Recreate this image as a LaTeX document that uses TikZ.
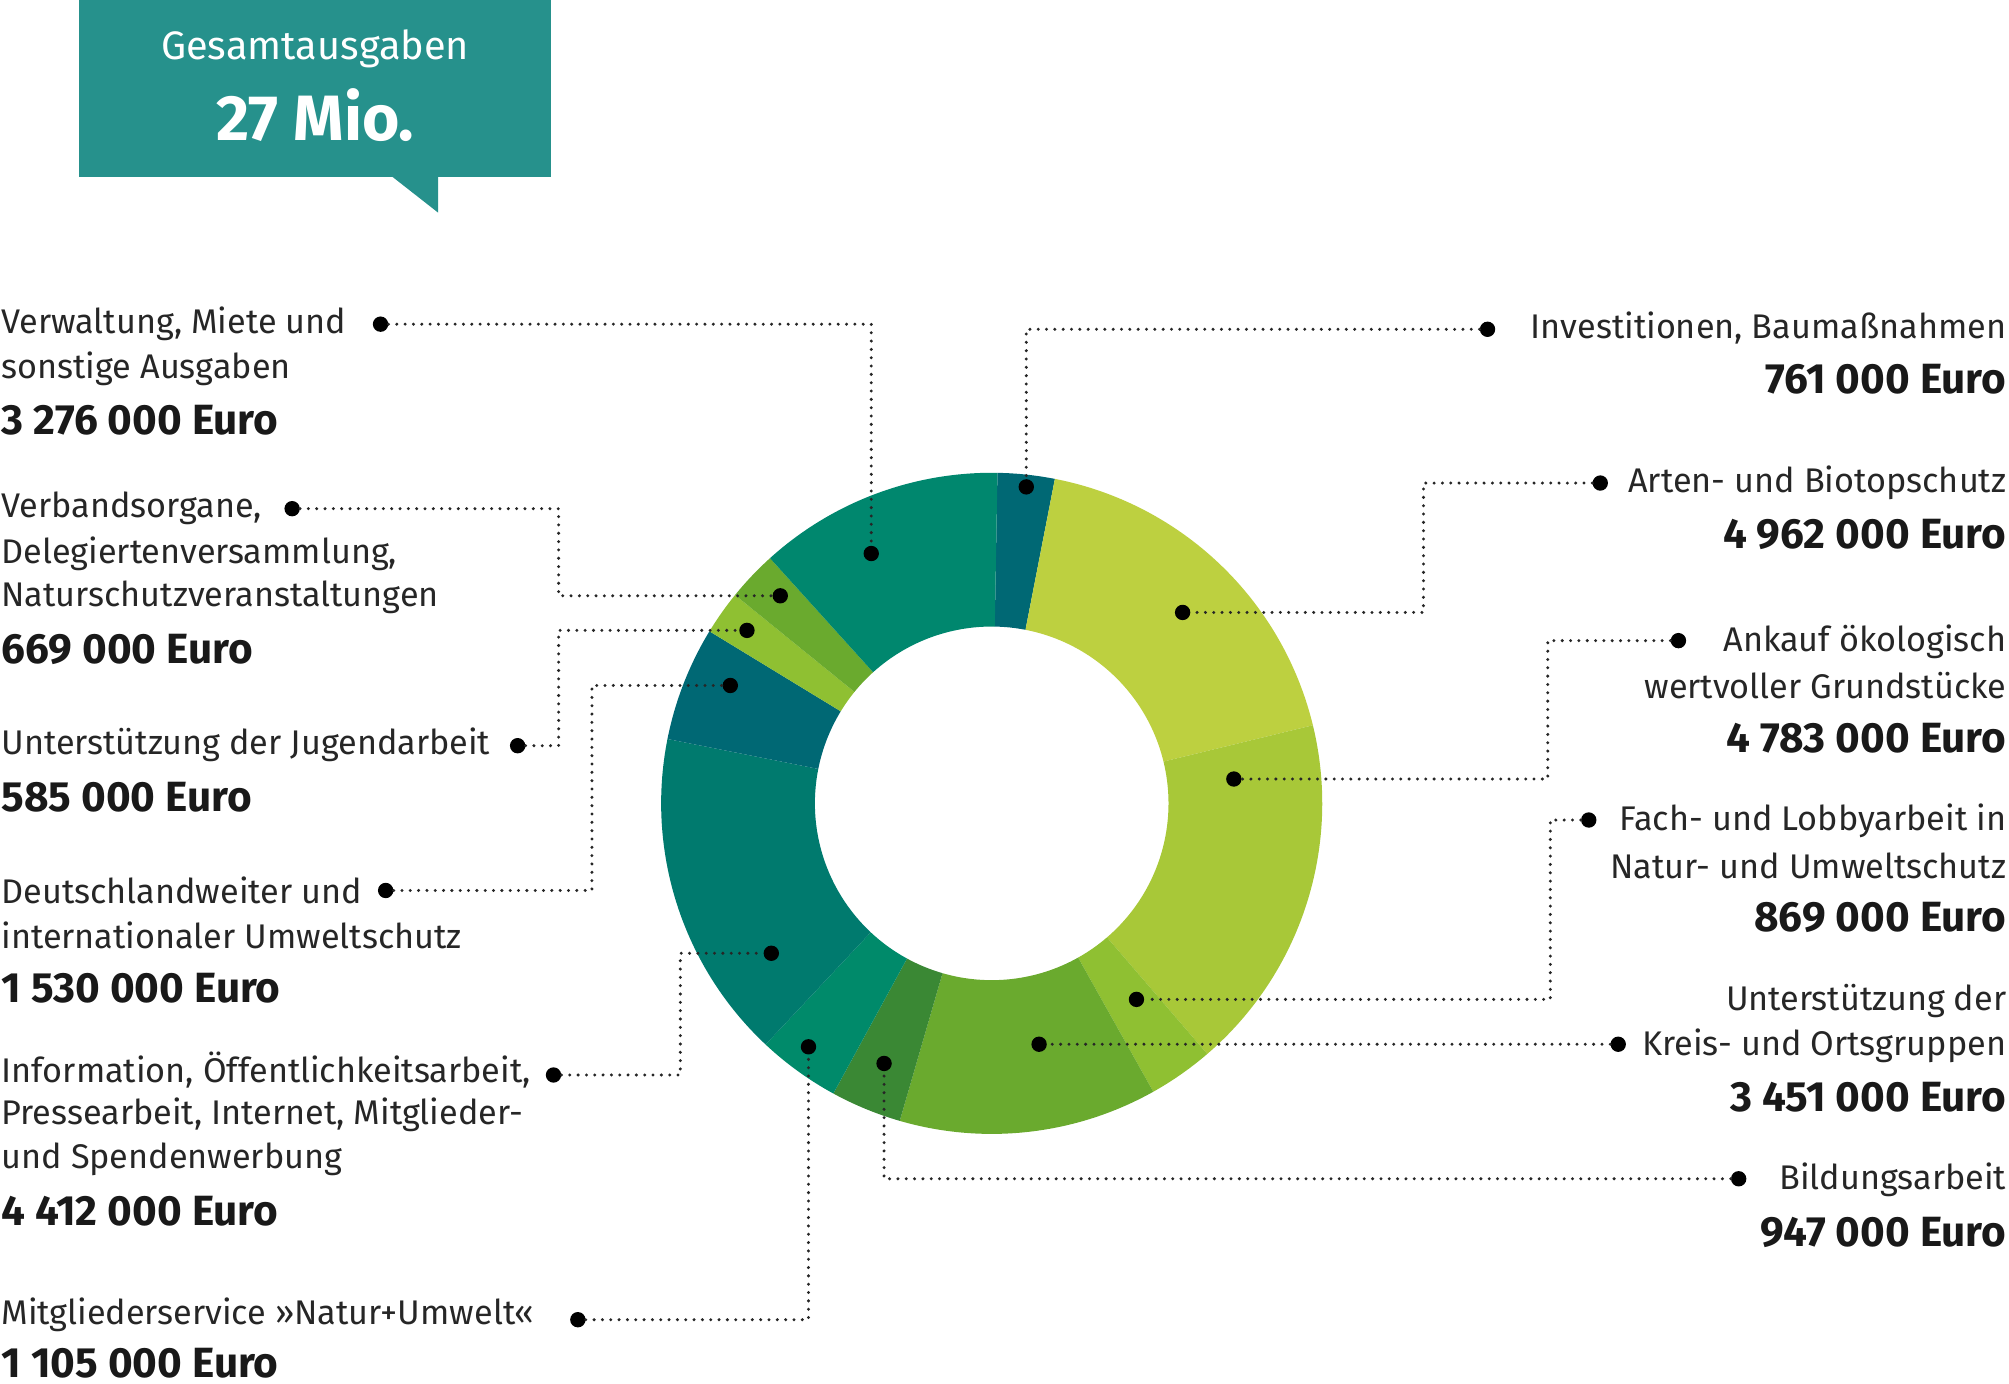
\documentclass[tikz,border=0pt]{standalone}
\usepackage{fontspec}
\setmainfont{Fira Sans}
\begin{document}
\begin{tikzpicture}[x=1pt,y=-1pt,
  t/.style={inner sep=0pt,font=\fontsize{26.7}{30}\selectfont,text=black!85},
  b/.style={inner sep=0pt,font=\fontsize{33}{36}\selectfont\bfseries,text=black!90},
  lead/.style={line width=2.6pt,black!85,line cap=round,dash pattern=on 0pt off 6.5pt},
  pt/.style={circle,fill=black,inner sep=0pt,minimum size=12pt}]
\useasboundingbox (0,0) rectangle (1568,1080);
\definecolor{hd}{RGB}{38,145,140}
\fill[hd] (62,0) rectangle (430,138);
\fill[hd] (305,137) -- (342,137) -- (342,166) -- cycle;
\node[text=white,font=\fontsize{31}{33}\selectfont] (g1) at (246,38) {Gesamtausgaben};
\node[text=white,font=\fontsize{50}{52}\selectfont\bfseries] (g2) at (246,90) {27 Mio.};
\definecolor{c1}{RGB}{0,104,116}
\definecolor{c2}{RGB}{189,208,64}
\definecolor{c3}{RGB}{168,200,56}
\definecolor{c4}{RGB}{143,192,50}
\definecolor{c5}{RGB}{106,170,46}
\definecolor{c6}{RGB}{58,136,52}
\definecolor{c7}{RGB}{0,138,106}
\definecolor{c8}{RGB}{0,122,110}
\definecolor{c9}{RGB}{0,104,116}
\definecolor{c10}{RGB}{143,192,50}
\definecolor{c11}{RGB}{106,170,46}
\definecolor{c12}{RGB}{0,135,110}
\begin{scope}[shift={(774,627)},y=1pt]
\foreach \a/\b/\c in {89/78.98/c1,78.98/13.67/c2,13.67/-49.29/c3,-49.29/-60.73/c4,-60.73/-106.15/c5,-106.15/-118.62/c6,-118.62/-133.16/c7,-133.16/-191.23/c8,-191.23/-211.37/c9,-211.37/-219.07/c10,-219.07/-227.88/c11,-227.88/-271/c12}
 \fill[\c] (\a:258) arc[start angle=\a,end angle=\b,radius=258] -- (\b:138) arc[start angle=\b,end angle=\a,radius=138] -- cycle;
\end{scope}
\foreach \n/\x/\y in {a1/297/253,a2/680/432,b1/228/397,b2/609/465,c1/404/582,c2/583/492,d1/301/695,d2/570/535,e1/432/839,e2/602/744,f1/451/1030,f2/631/817,g1/1161/257,g2/801/380,h1/1249/377,h2/923/478,i1/1310/500,i2/963/608,j1/1240/640,j2/887/780,k1/1263/815,k2/811/815,m1/1357/920,m2/690/830}
 \node[pt] (\n) at (\x,\y) {};
\draw[lead] (a1) -- (680,253) -- (a2);
\draw[lead] (b1) -- (436,397) -- (436,465) -- (b2);
\draw[lead] (c1) -- (436,582) -- (436,492) -- (c2);
\draw[lead] (d1) -- (462,695) -- (462,535) -- (d2);
\draw[lead] (e1) -- (531,839) -- (531,744) -- (e2);
\draw[lead] (f1) -- (631,1030) -- (f2);
\draw[lead] (g1) -- (801,257) -- (g2);
\draw[lead] (h1) -- (1111,377) -- (1111,478) -- (h2);
\draw[lead] (i1) -- (1208,500) -- (1208,608) -- (i2);
\draw[lead] (j1) -- (1210,640) -- (1210,780) -- (j2);
\draw[lead] (k1) -- (k2);
\draw[lead] (m1) -- (690,920) -- (m2);
\foreach \n/\y/\s/\txt in {
 la/253/t/{Verwaltung, Miete und},lb/288/t/{sonstige Ausgaben},lc/328/b/{3 276 000 Euro},
 ld/397/t/{Verbandsorgane,},le/432/t/{Delegiertenversammlung,},lf/466/t/{Naturschutzveranstaltungen},lg/507/b/{669 000 Euro},
 lh/581/t/{Unterstützung der Jugendarbeit},li/622/b/{585 000 Euro},
 lj/695/t/{Deutschlandweiter und},lk/730/t/{internationaler Umweltschutz},ll/771/b/{1 530 000 Euro},
 lm/835/t/{Information, Öffentlichkeitsarbeit,},ln/870/t/{Pressearbeit, Internet, Mitglieder-},lo/905/t/{und Spendenwerbung},lp/945/b/{4 412 000 Euro},
 lq/1026/t/{Mitgliederservice »Natur+Umwelt«},lr/1064/b/{1 105 000 Euro}}
 \node[\s,anchor=west] (\n) at (1,\y) {\txt};
\foreach \n/\y/\s/\txt in {
 ra/256/t/{Investitionen, Baumaßnahmen},rb/296/b/{761 000 Euro},
 rc/377/t/{Arten- und Biotopschutz},rd/417/b/{4 962 000 Euro},
 re/501/t/{Ankauf ökologisch},rf/535/t/{wertvoller Grundstücke},rg/576/b/{4 783 000 Euro},
 rh/641/t/{Fach- und Lobbyarbeit in},ri/676/t/{Natur- und Umweltschutz},rj/716/b/{869 000 Euro},
 rk/781/t/{Unterstützung der},rl/816/t/{Kreis- und Ortsgruppen},rm/856/b/{3 451 000 Euro},
 rn/921/t/{Bildungsarbeit},ro/962/b/{947 000 Euro}}
 \node[\s,anchor=east] (\n) at (1566,\y) {\txt};
\end{tikzpicture}
\end{document}
